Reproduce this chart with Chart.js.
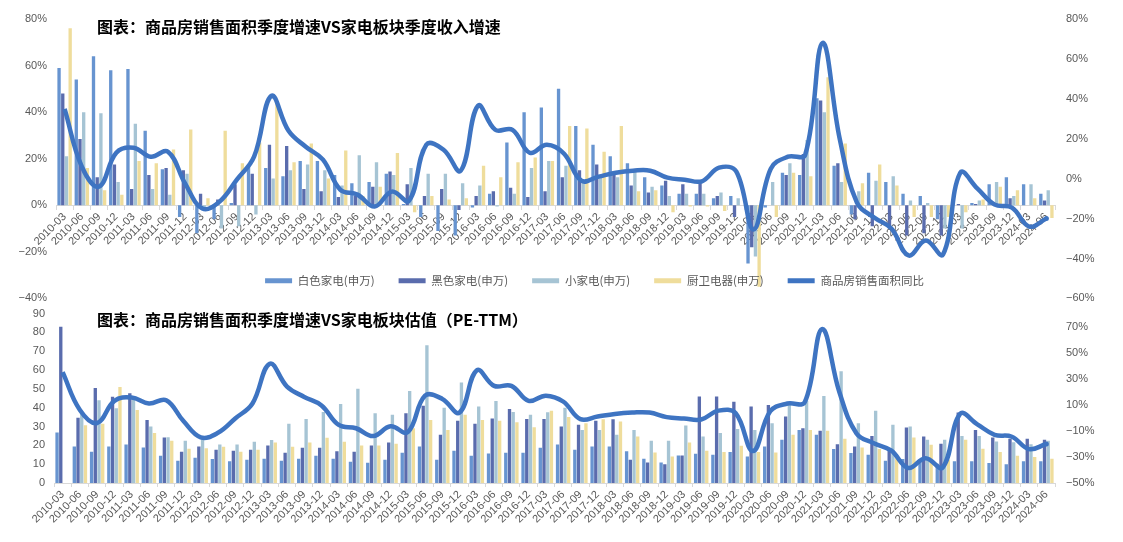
<!DOCTYPE html>
<html><head><meta charset="utf-8">
<script src="https://cdn.jsdelivr.net/npm/chart.js@4.4.1/dist/chart.umd.min.js"></script>
<style>
html,body{margin:0;padding:0;background:#fff;}
#wrap{position:relative;width:1123px;height:542px;overflow:hidden;background:#fff;}
canvas{position:absolute;left:0;}
#c1{top:0;}
#c2{top:268px;}
.title{position:absolute;left:97px;font-family:"Noto Sans CJK SC";font-weight:bold;font-size:16px;color:#000;white-space:nowrap;line-height:20px;}
</style></head><body>
<div id="wrap">
<canvas id="c1" width="1123" height="316"></canvas>
<canvas id="c2" width="1123" height="274"></canvas>
<div class="title" style="top:16px">图表：商品房销售面积季度增速VS家电板块季度收入增速</div>
<div class="title" style="top:309px">图表：商品房销售面积季度增速VS家电板块估值（PE-TTM）</div>
</div>
<script>
const quarters = ["2010-03","2010-06","2010-09","2010-12","2011-03","2011-06","2011-09","2011-12",
"2012-03","2012-06","2012-09","2012-12","2013-03","2013-06","2013-09","2013-12",
"2014-03","2014-06","2014-09","2014-12","2015-03","2015-06","2015-09","2015-12",
"2016-03","2016-06","2016-09","2016-12","2017-03","2017-06","2017-09","2017-12",
"2018-03","2018-06","2018-09","2018-12","2019-03","2019-06","2019-09","2019-12",
"2020-03","2020-06","2020-09","2020-12","2021-03","2021-06","2021-09","2021-12",
"2022-03","2022-06","2022-09","2022-12","2023-03","2023-06","2023-09","2023-12",
"2024-03","2024-06"];

const seriesNames = ["白色家电(申万)","黑色家电(申万)","小家电(申万)","厨卫电器(申万)","商品房销售面积同比"];

// 季度收入增速 (%)
const revWhite = [59,54,64,58,58.5,32,15.5,-5,-12,-6,1,17,16,12.5,19,19,13,9.5,10,13.5,0.5,-5,-11,-13,-1,5,27,40,42,50,34,26,21,18,12,8.5,5,5,3,4,-25,-1,14,13,46,17,-4,14,10,5,4,-6,0,1,9,12,9,5];
const revBlack = [48,28.5,12,17.5,7,13,16,15,5,2.5,9,13.5,26,25.5,7,6,3.5,4,8,14.5,9,4,7,-2,4,6,7.5,3.5,6,12,15,17.5,14,8.5,5.5,10.5,9,10,4,-5,-18,0,13,22,45,18,-6,-9,-10,-13,-12,-13,0.5,0.5,0,3,0,2];
const revSmall = [21,40,39.5,10,35,7,4.5,13.5,-1,-10,-9,-4,11.5,15,17.5,15,8.5,21.5,18.5,13,16,13.5,13.5,9.5,8.5,-0.5,5,16,19,17,10,12,12,15,8,4,5,5,5.5,3,-22,10,18,28,40,10,6,10.5,12.5,2,1,-10,-10,2,10,4,9,6.5];
const revKitchen = [76,16,6.5,4.5,19,18,24,32.5,3,32,18,27,44,18.5,26.5,11.5,23.5,4,8,22.5,-3,4,2.5,3,17,12,18.5,20.5,19,34,33,23,34,6,6.5,-3,-0.5,-0.5,-2.5,0,-35,-5,14,12.5,55,26.5,9.5,17.5,8.5,-5,-5,-5,-3,2.5,8,6.5,3,-5.5];

// 商品房销售面积同比 (%)
const areaYoY = [35,6,-4,13,15.5,11,13.5,-2.5,-15,-11.5,-0.5,11,41.5,24,16,9.5,-5.5,-8,-14,-6.5,-11,17,14.5,4,36.5,24.5,24.5,13,17,12.5,-1,1,3,4,4,0.5,-0.5,-1.3,5.5,3.5,-25.5,5,11,12,68,20,-12,-19.5,-25,-38.5,-31,-38,3,-5,-13,-14.5,-24,-20];

// 估值 PE-TTM
const peWhite = [26.8,19.4,16.6,19.4,20.5,18.9,14.5,11.8,13.4,12.7,11.6,12.3,12.9,11.8,12.9,14.5,12.9,11.3,10.8,12.3,16,19.4,12.3,17.1,14.5,15.7,16,16,18.7,20.5,17.6,19.4,19.4,16.8,12.9,10.9,14.6,15.5,15,16.4,14.1,19.4,22.9,28.2,25.6,18,15.9,15,11.8,12.7,12.3,10.2,11.5,11.5,10.6,10,11.5,11.5];
const peBlack = [83,34.6,50.4,45.8,47.6,33.5,24.2,16.6,19.4,17.6,17.1,17.6,19.9,16,18.7,18.7,16.9,16.6,19.9,21.5,37,41,25.6,33,31.4,34.2,39.3,34,34,30,30.9,33,33.9,12.3,10.9,10,14.6,45.9,45.9,43.2,40.6,41.4,35.3,29.1,27.7,20.6,19.4,25,17.6,29.5,24.7,20.8,37.4,28.2,24.2,23.5,23.5,22.9];
const peSmall = [null,37.4,44,39.7,44.4,30,24.3,22.4,23.3,20.5,20.5,21.9,22.8,31.4,34,37.7,42,50,37,36.2,48.9,73.2,40,53.3,40.6,43.6,37.7,36.2,37.6,40,28.2,28.2,25.6,28.2,22.4,22.4,30.5,24.7,26.5,28.7,28.2,31.7,42.3,43.7,46.2,59.4,31.7,38.3,30.9,30,22.9,22.9,25,25,22,21.7,20.6,22.4];
const peKitchen = [null,30.7,31.4,51,38.8,26.5,22.4,18.2,18.5,19.2,16.6,17.6,21.5,19.2,21.5,24,21.9,19.9,19.9,20.8,29.1,33.5,28.2,36.2,33.5,33,32.3,29.6,38.3,35,31.7,33.9,32.6,24.7,16.2,14.1,21.5,17.1,16.4,19.8,16.4,16.2,25.6,28.2,27.7,23.5,18.9,18,14.1,24.2,20.3,12.3,22.9,18.2,16.4,14.5,13.8,12.9];

const topLeftTicks = [-40,-20,0,20,40,60,80];
const topRightTicks = [-60,-40,-20,0,20,40,60,80];
const botLeftTicks = [0,10,20,30,40,50,60,70,80,90];
const botRightTicks = [-50,-30,-10,10,30,50,70];

const COL = ['#6794d0','#5a6cad','#a6c4d4','#efdd9c'];
const LINE_COL = '#3e74c2';
const TXT = '#595959';
const tickFont = {family:'"Liberation Sans", Arial, sans-serif', size:11};
const pct = v => (v < 0 ? '\u2212' + (-v) : v) + '%';

function bars(axis, arrs){
  return arrs.map((d,i)=>({type:'bar', label:seriesNames[i], data:d, backgroundColor:COL[i],
    borderWidth:0, yAxisID:axis, order:1, categoryPercentage:0.86, barPercentage:0.9}));
}
function line(axis){
  return {type:'line', label:seriesNames[4], data:areaYoY, borderColor:LINE_COL, backgroundColor:LINE_COL,
    borderWidth:4.5, tension:0.4, yAxisID:axis, order:0, fill:false,
    pointRadius: c => c.dataIndex === areaYoY.length-1 ? 2.5 : 0, pointBackgroundColor:LINE_COL, pointBorderWidth:0};
}
function fixedTicks(list){ return s => { s.ticks = list.map(v=>({value:v})); }; }
function yAxis(pos, min, max, list, width, fmt, pad){
  return {position:pos, min, max, afterBuildTicks:fixedTicks(list),
    ticks:{callback:fmt, font:tickFont, color:TXT, padding:pad},
    grid:{display:false, drawTicks:false}, border:{display:false},
    afterFit: s => { s.width = width; }};
}
function xAxis(position, height){
  return {type:'category', position, offset:true,
    grid:{display:true, drawOnChartArea:false, drawTicks:true, tickLength:4, color:'#d9d9d9', offset:true},
    border:{display:true, color:'#d9d9d9'},
    ticks:{autoSkip:false, maxRotation:45, minRotation:45, font:tickFont, color:TXT, padding:1},
    afterFit: s => { s.height = height; }};
}

Chart.defaults.animation = false;
Chart.defaults.font.family = '"Liberation Sans", Arial, sans-serif';

new Chart(document.getElementById('c1'), {
  data:{labels:quarters, datasets:[...bars('y',[revWhite,revBlack,revSmall,revKitchen]), line('y1')]},
  options:{responsive:false, animation:false,
    layout:{padding:{top:19,bottom:12,left:0,right:0}},
    plugins:{legend:{display:false}, tooltip:{enabled:false}},
    scales:{
      x: xAxis({y:0}, 0),
      y: yAxis('left', -40, 80, topLeftTicks, 56, pct, 9),
      y1: yAxis('right', -60, 80, topRightTicks, 68, pct, 11)
    }}
});

const legendNudge = {id:'legendNudge', afterLayout(chart){
  const l = chart.legend; if(!l) return;
  l.left += 33; l.right += 33; l.top -= 17; l.bottom -= 17;
}};

new Chart(document.getElementById('c2'), {
  data:{labels:quarters, datasets:[...bars('y',[peWhite,peBlack,peSmall,peKitchen]), line('y1')]},
  plugins:[legendNudge],
  options:{responsive:false, animation:false,
    layout:{padding:{top:0,bottom:0,left:0,right:0}},
    plugins:{tooltip:{enabled:false},
      legend:{display:true, position:'top',
        labels:{boxWidth:27, boxHeight:5, padding:24, color:TXT,
          font:{family:'"Noto Sans CJK SC", sans-serif', size:11.5},
          sort:(a,b)=>a.datasetIndex-b.datasetIndex,
          generateLabels(chart){
            const items = Chart.defaults.plugins.legend.labels.generateLabels(chart);
            items.forEach(it=>{ it.lineWidth = 0; it.strokeStyle = 'rgba(0,0,0,0)'; });
            return items;
          }}}},
    scales:{
      x: xAxis('bottom', 59),
      y: yAxis('left', 0, 90, botLeftTicks, 54, v=>v, 9),
      y1: yAxis('right', -50, 80, botRightTicks, 68, pct, 11)
    }}
});
</script>
</body></html>
